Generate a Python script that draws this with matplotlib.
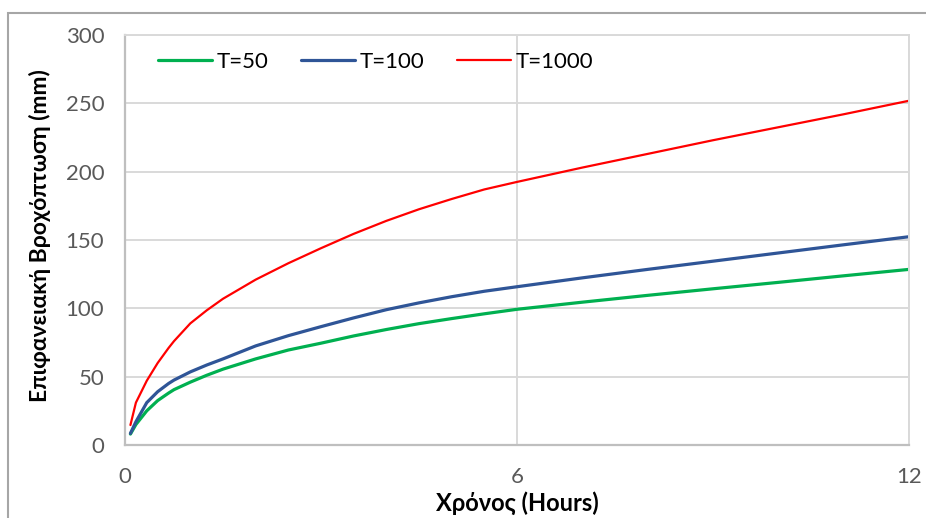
import matplotlib.pyplot as plt
from matplotlib.patches import Rectangle

plt.rcParams['font.family'] = ['Lato', 'DejaVu Sans']

# durations (hours) and surface rainfall depth (mm)
hours = [0.083, 0.167, 0.25, 0.333, 0.5, 0.667, 0.75, 1, 1.25, 1.5, 2, 2.5, 3, 3.5, 4, 4.5,
         5, 5.5, 6, 7, 8, 9, 10, 11, 12]
t50 = [8, 15, 20, 25, 32.5, 38, 40.5, 46, 51, 55.5, 63, 69.5, 74.5, 79.8, 84.5, 88.8,
       92.5, 96, 99.3, 104.5, 109.5, 114.3, 119, 123.8, 128.5]
t100 = [8.5, 17, 24, 31, 39, 45, 47.5, 53.5, 58.5, 63, 72.5, 80, 86.6, 93, 99, 104,
        108.5, 112.5, 115.8, 122.3, 128.5, 134.5, 140.5, 146.5, 152.4]
t1000 = [14.6, 31, 39, 47, 60, 71, 76, 89, 98.5, 107, 121, 133, 144, 154.5, 164, 172.5,
         180, 187, 192.5, 203, 213, 223, 232.5, 242, 251.9]

series = [("T=50", t50, "#00B050", 2.3),
          ("T=100", t100, "#2F5597", 2.3),
          ("T=1000", t1000, "#FF0000", 1.6)]

fig = plt.figure(figsize=(9.26, 5.18), dpi=100)
ax = fig.add_axes([125 / 926, 1 - 445 / 518, 784 / 926, 410 / 518])

# outer chart border (only top and left visible in the crop)
fig.patches.append(Rectangle((8 / 926, -0.2), 2, 1.2 - 12.5 / 518, transform=fig.transFigure,
                             fill=False, edgecolor="#A6A6A6", linewidth=1.5))

for name, vals, col, lw in series:
    ax.plot(hours, vals, color=col, lw=lw, label=name, solid_capstyle="round",
            solid_joinstyle="round")

ax.set_xlim(0, 12)
ax.set_ylim(0, 300)
ax.set_xticks([0, 6, 12])
ax.set_yticks(range(0, 301, 50))
ax.grid(True, color="#D9D9D9", lw=1.4)
ax.set_axisbelow(True)
ax.tick_params(length=0, labelsize=16, labelcolor="#595959")
ax.tick_params(axis="x", pad=16)
ax.tick_params(axis="y", pad=15)
for s in ["top", "right"]:
    ax.spines[s].set_color("#D9D9D9")
    ax.spines[s].set_linewidth(1.4)
for s in ["left", "bottom"]:
    ax.spines[s].set_color("#BFBFBF")
    ax.spines[s].set_linewidth(1.6)

ax.set_xlabel("Χρόνος (Hours)", fontsize=17, fontweight="bold", va="center")
ax.xaxis.set_label_coords(0.5, -0.141)
ax.set_ylabel("Επιφανειακή Βροχόπτωση (mm)", fontsize=16.5, fontweight="bold", va="center")
ax.yaxis.set_label_coords(-0.108, 0.51)

ax.legend(loc="center left", bbox_to_anchor=(0.042, 0.934), ncol=3, frameon=False,
          fontsize=16, handlelength=2.45, handletextpad=0.2, columnspacing=1.45,
          borderpad=0, borderaxespad=0)

fig.savefig("out.png", dpi=100)
